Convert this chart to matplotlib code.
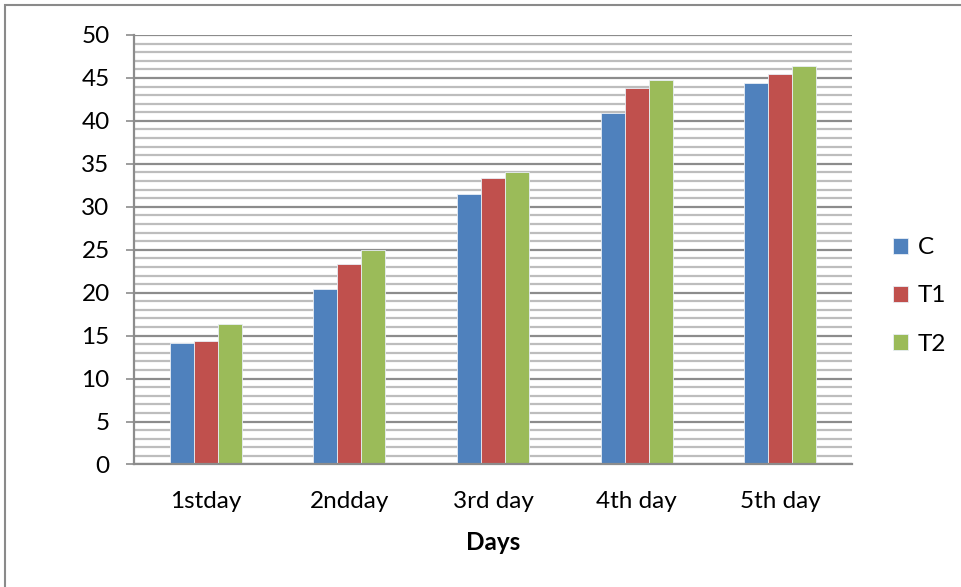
import matplotlib
matplotlib.use("Agg")
import matplotlib.pyplot as plt
import numpy as np
from matplotlib.patches import Rectangle

days = ["1stday", "2ndday", "3rd day", "4th day", "5th day"]
series_names = ["C", "T1", "T2"]
c_vals = [14.1, 20.4, 31.5, 40.9, 44.4]
t1_vals = [14.4, 23.3, 33.3, 43.8, 45.4]
t2_vals = [16.4, 25.0, 34.1, 44.8, 46.4]
colors = ["#4F81BD", "#C0504D", "#9BBB59"]

plt.rcParams["font.family"] = ["Lato", "DejaVu Sans"]
FS = 17.5

fig = plt.figure(figsize=(9.61, 5.87), dpi=100)
ax = fig.add_axes([0.1394, 0.2087, 0.8866 - 0.1394, 0.9404 - 0.2087])

# outer chart frame
fig.patches.append(Rectangle((5 / 961, -0.05), 1.1, 1 - 5 / 587 + 0.05,
                             transform=fig.transFigure, fill=False,
                             edgecolor="#8a8a8a", linewidth=1.5))

x = np.arange(len(days))
w = 1 / 6
for i, (vals, col, name) in enumerate(zip([c_vals, t1_vals, t2_vals], colors, series_names)):
    ax.bar(x + (i - 1) * w, vals, width=w, color=col, edgecolor="#e8eef5",
           linewidth=0.6, label=name, zorder=3)

ax.set_xlim(-0.5, len(days) - 0.5)
ax.set_ylim(0, 50)
ax.set_yticks(np.arange(0, 51, 5))
ax.set_yticks(np.arange(0, 51, 1), minor=True)
ax.yaxis.grid(True, which="major", color="#8c8c8c", linewidth=1.6, zorder=0)
ax.yaxis.grid(True, which="minor", color="#bdbdbd", linewidth=1.6, zorder=0)
ax.tick_params(axis="y", which="minor", length=0)
ax.tick_params(axis="y", which="major", length=5.5, width=1.2, color="#8c8c8c",
               labelsize=FS, pad=12)
ax.set_xticks(x)
ax.set_xticklabels(days)
ax.tick_params(axis="x", length=0, labelsize=FS, pad=19)

for s in ["top", "right"]:
    ax.spines[s].set_visible(False)
for s in ["left", "bottom"]:
    ax.spines[s].set_color("#8c8c8c")
    ax.spines[s].set_linewidth(1.6)
    ax.spines[s].set_zorder(4)

ax.set_xlabel("Days", fontsize=FS, fontweight="bold", labelpad=14)

leg = ax.legend(loc="center left", bbox_to_anchor=(893 / 961, 1 - 296 / 587),
                bbox_transform=fig.transFigure, frameon=False, borderpad=0,
                borderaxespad=0, fontsize=FS, handlelength=0.62,
                handleheight=0.62, handletextpad=0.4, labelspacing=1.12)

fig.savefig("out.png", dpi=100)
